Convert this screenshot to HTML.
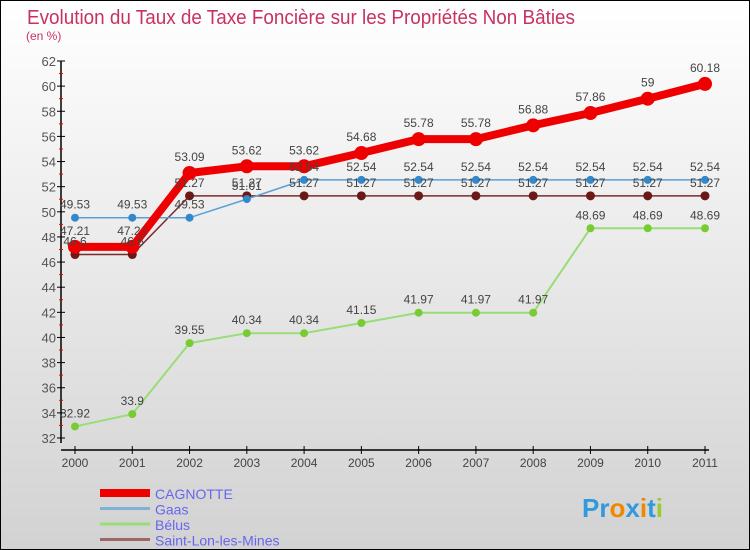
<!DOCTYPE html>
<html><head><meta charset="utf-8"><style>
html,body{margin:0;padding:0}
body{width:750px;height:550px;overflow:hidden;font-family:"Liberation Sans",sans-serif}
#wrap{position:absolute;left:0;top:0;width:748px;height:548px;border:1px solid #000;background:linear-gradient(#ffffff,#d2d2d2)}
svg{position:absolute;left:0;top:0}
</style></head><body>
<div id="wrap"></div>
<svg id="chart" width="750" height="550">
<text x="27" y="24" font-size="20" fill="#c8325f" textLength="548" lengthAdjust="spacingAndGlyphs">Evolution du Taux de Taxe Foncière sur les Propriétés Non Bâties</text>
<text x="26" y="40" font-size="12" fill="#c8325f">(en %)</text>
</svg>
<script>
const years=["2000","2001","2002","2003","2004","2005","2006","2007","2008","2009","2010","2011"];
const cagnotte=[47.21,47.21,53.09,53.62,53.62,54.68,55.78,55.78,56.88,57.86,59,60.18];
const gaas=[49.53,49.53,49.53,51.01,52.54,52.54,52.54,52.54,52.54,52.54,52.54,52.54];
const belus=[32.92,33.9,39.55,40.34,40.34,41.15,41.97,41.97,41.97,48.69,48.69,48.69];
const saintLon=[46.6,46.6,51.27,51.27,51.27,51.27,51.27,51.27,51.27,51.27,51.27,51.27];
const yTicks=[32,34,36,38,40,42,44,46,48,50,52,54,56,58,60,62];
const seriesNames=["CAGNOTTE","Gaas","Bélus","Saint-Lon-les-Mines"];

const svg=document.getElementById('chart');
const NS='http://www.w3.org/2000/svg';
const yMin=32,yMax=62,yTop=61,yBot=438,xL=75,xR=705;
const X=i=>xL+i*(xR-xL)/(years.length-1);
const Y=v=>yBot-(v-yMin)*(yBot-yTop)/(yMax-yMin);
function mk(t,a){const e=document.createElementNS(NS,t);for(const k in a)e.setAttribute(k,a[k]);svg.appendChild(e);return e;}

let ax=mk('line',{x1:61,y1:yTop,x2:61,y2:443,stroke:'#000','stroke-width':1.5});


yTicks.forEach(v=>{
  const t=mk('line',{x1:57,y1:Y(v),x2:65,y2:Y(v),stroke:'#000'});
  
  
  if(v<yMax){
    const m=mk('line',{x1:59,y1:Y(v+1),x2:63,y2:Y(v+1),stroke:'#e00'});
    
    
  }
  const l=mk('text',{x:56,y:Y(v)+5,'text-anchor':'end','font-size':13,fill:'#555'});
  l.textContent=v;
  
  
});
let xa=mk('line',{x1:61,y1:450,x2:709,y2:450,stroke:'#000','stroke-width':1.5});


years.forEach((y,i)=>{
  const t=mk('line',{x1:X(i),y1:446,x2:X(i),y2:454,stroke:'#000'});
  
  
  const l=mk('text',{x:X(i),y:467,'text-anchor':'middle','font-size':12,fill:'#444'});
  l.textContent=y;
  
  
});

function series(vals,color,w,r,dot,name){
  const p=mk('polyline',{points:vals.map((v,i)=>X(i)+','+Y(v)).join(' '),fill:'none',stroke:color,'stroke-width':w,'stroke-linejoin':'round'});
  
  
  vals.forEach((v,i)=>{
    const c=mk('circle',{cx:X(i),cy:Y(v),r:r,fill:dot});
    
    
  });
}
function labels(vals,name,dy){
  vals.forEach((v,i)=>{
    const l=mk('text',{x:X(i),y:Y(v)+dy,'text-anchor':'middle','font-size':12,fill:'#444'});
    l.textContent=String(v);
    
    
  });
}
series(belus,'#99dd77',2,4,'#77cc33','belus');
series(saintLon,'#7a2a2a',1.5,4.5,'#6a1818','saint-lon');
series(gaas,'#5aa0d8',1.5,4,'#3388cc','gaas');
series(cagnotte,'#ee0000',8,7,'#ee0000','cagnotte');
labels(belus,'belus',-9);
labels(saintLon,'saint-lon',-9);
labels(gaas,'gaas',-9);
labels(cagnotte,'cagnotte',-12);

const legColors=['#ee0000','#7fb2d8','#99dd77','#a06666'];
const legW=[8,3,3,3];
seriesNames.forEach((n,i)=>{
  const y=493+i*15.5;
  const ln=mk('line',{x1:100,y1:y,x2:150,y2:y,stroke:legColors[i],'stroke-width':legW[i]});
  
  
  const t=mk('text',{x:155,y:y+6,'font-size':14,fill:'#6666ee'});
  t.textContent=n;
  
  
});
const lg=mk('text',{x:582,y:517,'font-size':26,'font-weight':'bold',fill:'#3399dd'});


lg.innerHTML='Pr<tspan fill="#ee8800">o</tspan>x<tspan fill="#ee8800">i</tspan>t<tspan fill="#99cc33">i</tspan>';
</script>
</body></html>
